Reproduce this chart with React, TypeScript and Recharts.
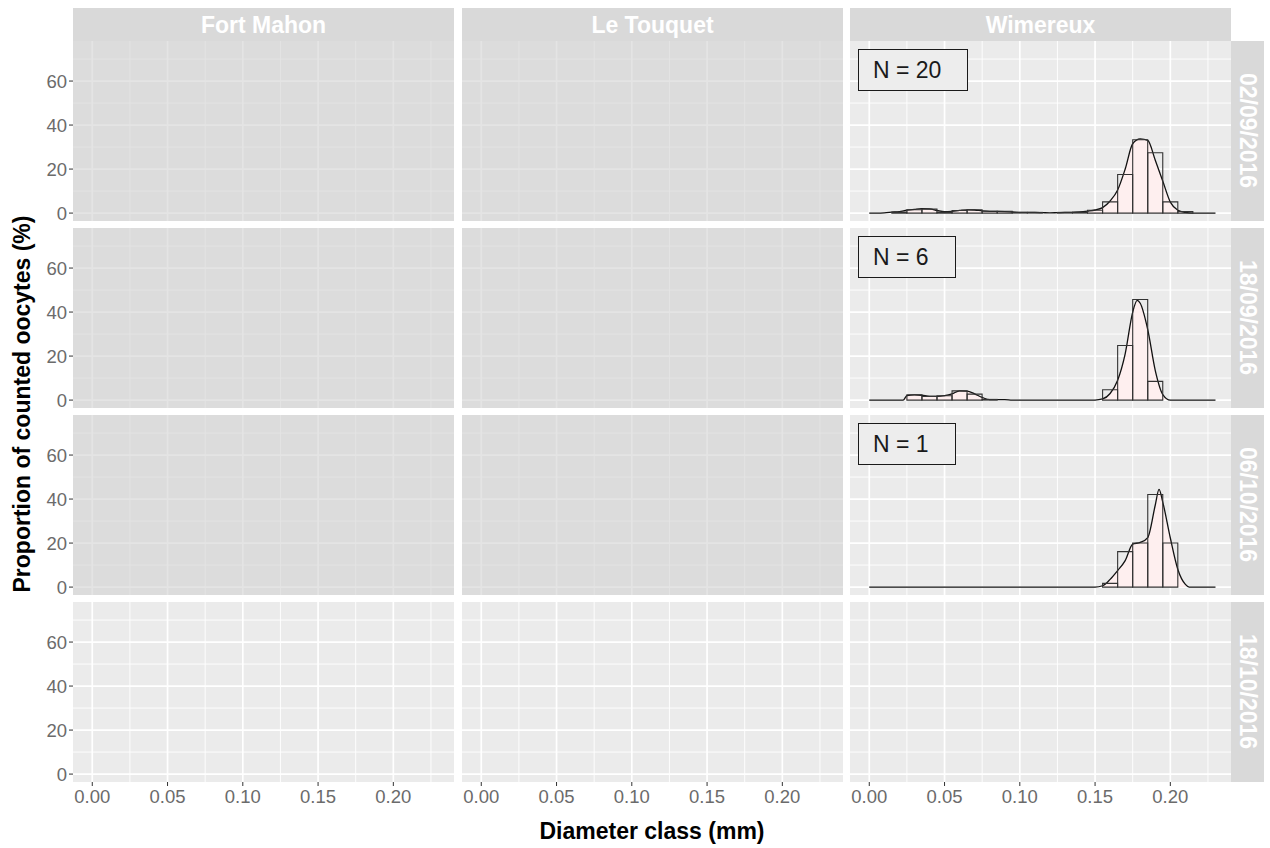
import React from 'react';
import { ComposedChart, Area, Bar, XAxis, YAxis, CartesianGrid } from 'recharts';

// facets
const sites = ['Fort Mahon', 'Le Touquet', 'Wimereux'];
const dates = ['02/09/2016', '18/09/2016', '06/10/2016', '18/10/2016'];

// axis breaks
const xTicks = [0, 0.05, 0.1, 0.15, 0.2];
const xMinor = [0.025, 0.075, 0.125, 0.175, 0.225];
const yTicks = [0, 20, 40, 60];
const yMinor = [10, 30, 50, 70];

// sites not sampled on a given date get a grey veil
const notSampled = [
  [true, true, false],
  [true, true, false],
  [true, true, false],
  [false, false, false],
];

// number of females measured at Wimereux
const sampleSizes = [20, 6, 1];

// Wimereux histograms: class centre (mm) / % of counted oocytes
const bins0209 = [
  { d: 0.02, pct: 0.5 }, { d: 0.03, pct: 1.5 }, { d: 0.04, pct: 1.8 }, { d: 0.05, pct: 0.5 },
  { d: 0.06, pct: 1.2 }, { d: 0.07, pct: 1.5 }, { d: 0.08, pct: 0.8 }, { d: 0.09, pct: 0.8 },
  { d: 0.1, pct: 0.3 }, { d: 0.11, pct: 0.3 }, { d: 0.13, pct: 0.3 }, { d: 0.14, pct: 0.4 },
  { d: 0.15, pct: 1.3 }, { d: 0.16, pct: 5.1 }, { d: 0.17, pct: 17.5 }, { d: 0.18, pct: 33.3 },
  { d: 0.19, pct: 27.4 }, { d: 0.2, pct: 5.1 }, { d: 0.21, pct: 0.7 },
];
const bins1809 = [
  { d: 0.03, pct: 2.4 }, { d: 0.04, pct: 1.7 }, { d: 0.05, pct: 2.0 }, { d: 0.06, pct: 4.2 },
  { d: 0.07, pct: 2.7 }, { d: 0.08, pct: 0.3 }, { d: 0.16, pct: 4.7 }, { d: 0.17, pct: 24.8 },
  { d: 0.18, pct: 45.7 }, { d: 0.19, pct: 8.5 },
];
const bins0610 = [
  { d: 0.16, pct: 1.7 }, { d: 0.17, pct: 16.1 }, { d: 0.18, pct: 20.0 }, { d: 0.19, pct: 42.1 },
  { d: 0.2, pct: 20.0 },
];

// smoothed size distributions
const dens0209 = [
  { d: 0, dens: 0 }, { d: 0.005, dens: 0 }, { d: 0.01, dens: 0.1 }, { d: 0.015, dens: 0.4 },
  { d: 0.02, dens: 0.7 }, { d: 0.025, dens: 1.3 }, { d: 0.03, dens: 1.7 }, { d: 0.035, dens: 2.0 },
  { d: 0.04, dens: 1.9 }, { d: 0.045, dens: 1.2 }, { d: 0.05, dens: 0.6 }, { d: 0.055, dens: 0.8 },
  { d: 0.06, dens: 1.2 }, { d: 0.065, dens: 1.5 }, { d: 0.07, dens: 1.4 }, { d: 0.075, dens: 1.0 },
  { d: 0.08, dens: 0.8 }, { d: 0.085, dens: 0.8 }, { d: 0.09, dens: 0.7 }, { d: 0.095, dens: 0.5 },
  { d: 0.1, dens: 0.3 }, { d: 0.105, dens: 0.3 }, { d: 0.11, dens: 0.3 }, { d: 0.115, dens: 0.2 },
  { d: 0.12, dens: 0.1 }, { d: 0.125, dens: 0.2 }, { d: 0.13, dens: 0.3 }, { d: 0.135, dens: 0.3 },
  { d: 0.14, dens: 0.5 }, { d: 0.145, dens: 0.9 }, { d: 0.15, dens: 1.4 }, { d: 0.155, dens: 2.5 },
  { d: 0.16, dens: 5.5 }, { d: 0.165, dens: 10.5 }, { d: 0.17, dens: 20.0 }, { d: 0.175, dens: 31.5 },
  { d: 0.18, dens: 33.7 }, { d: 0.185, dens: 33.0 }, { d: 0.19, dens: 24.0 }, { d: 0.195, dens: 14.5 },
  { d: 0.2, dens: 5.0 }, { d: 0.205, dens: 1.3 }, { d: 0.21, dens: 0.3 }, { d: 0.215, dens: 0 },
  { d: 0.23, dens: 0 },
];
const dens1809 = [
  { d: 0, dens: 0 }, { d: 0.0225, dens: 0 }, { d: 0.025, dens: 2.0 }, { d: 0.03, dens: 2.4 },
  { d: 0.035, dens: 2.2 }, { d: 0.04, dens: 1.7 }, { d: 0.045, dens: 1.7 }, { d: 0.05, dens: 2.0 },
  { d: 0.055, dens: 2.8 }, { d: 0.06, dens: 4.2 }, { d: 0.065, dens: 4.1 }, { d: 0.07, dens: 2.8 },
  { d: 0.075, dens: 1.2 }, { d: 0.08, dens: 0.2 }, { d: 0.09, dens: 0.2 }, { d: 0.095, dens: 0 },
  { d: 0.15, dens: 0 }, { d: 0.155, dens: 0.5 }, { d: 0.16, dens: 3.0 }, { d: 0.165, dens: 9.0 },
  { d: 0.17, dens: 21.0 }, { d: 0.175, dens: 40.0 }, { d: 0.178, dens: 45.3 }, { d: 0.18, dens: 44.0 },
  { d: 0.185, dens: 32.0 }, { d: 0.19, dens: 13.4 }, { d: 0.195, dens: 2.5 }, { d: 0.2, dens: 0 },
  { d: 0.23, dens: 0 },
];
const dens0610 = [
  { d: 0, dens: 0 }, { d: 0.15, dens: 0 }, { d: 0.155, dens: 0.6 }, { d: 0.16, dens: 3.5 },
  { d: 0.165, dens: 7.5 }, { d: 0.17, dens: 12.0 }, { d: 0.175, dens: 19.5 }, { d: 0.18, dens: 20.3 },
  { d: 0.185, dens: 22.5 }, { d: 0.19, dens: 37.3 }, { d: 0.1925, dens: 44.4 }, { d: 0.195, dens: 38.5 },
  { d: 0.2, dens: 22.3 }, { d: 0.205, dens: 8.0 }, { d: 0.21, dens: 1.2 }, { d: 0.2125, dens: 0 },
  { d: 0.23, dens: 0 },
];

const histograms = [bins0209, bins1809, bins0610, null];
const densities = [dens0209, dens1809, dens0610, null];

// layout
const FONT = '"Liberation Sans", Arial, Helvetica, sans-serif';
const X_DOMAIN: [number, number] = [-0.0128, 0.2403];
const Y_DOMAIN: [number, number] = [-3.6, 78.2];
const PANEL_W = 381;
const PANEL_H = 180;
const COL_X = [73, 462, 850];
const ROW_Y = [41, 228, 415, 602];
const Y_AXIS_W = 73;
const X_AXIS_H = 40;
const LABEL_PAD = 12; // room below the panel for the "0" tick label
const STRIP = 33;
const PANEL_BG = '#EBEBEB';
const STRIP_BG = '#D9D9D9';
const PINK = '#FEEFEF';
const NO_MARGIN = { top: 0, right: 0, bottom: 0, left: 0 };

const tickStyle = { fill: '#6b6b6b', fontSize: 18.5, fontFamily: FONT };

function Panel({ row, col }: { row: number; col: number }) {
  const showY = col === 0;
  const showX = row === dates.length - 1;
  const yw = showY ? Y_AXIS_W : 0;
  const xh = showX ? X_AXIS_H : 0;
  const pad = showY && !showX ? LABEL_PAD : 0;
  const isWimereux = col === sites.length - 1;
  const dens = isWimereux ? densities[row] : null;
  const bins = isWimereux ? histograms[row] : null;

  return (
    <>
      <div style={{ position: 'absolute', left: COL_X[col] - yw, top: ROW_Y[row] }}>
        <ComposedChart width={PANEL_W + yw} height={PANEL_H + xh + pad} data={dens ?? []}
          margin={{ ...NO_MARGIN, bottom: pad }}>
          <CartesianGrid fill={PANEL_BG} fillOpacity={1} stroke="#ffffff" strokeWidth={0.9}
            horizontalValues={yMinor} verticalValues={xMinor} />
          <CartesianGrid stroke="#ffffff" strokeWidth={1.7}
            horizontalValues={yTicks} verticalValues={xTicks} />
          <XAxis type="number" dataKey="d" domain={X_DOMAIN} allowDataOverflow ticks={xTicks} interval={0}
            hide={!showX} height={xh} axisLine={false} tickSize={4} tickMargin={4}
            tickLine={{ stroke: '#333333' }} tick={tickStyle}
            tickFormatter={(v: number) => v.toFixed(2)} />
          <YAxis type="number" domain={Y_DOMAIN} allowDataOverflow ticks={yTicks} interval={0}
            hide={!showY} width={yw} axisLine={false} tickSize={4} tickMargin={2}
            tickLine={{ stroke: '#333333' }} tick={tickStyle} />
          {dens && (
            <Area type="monotone" dataKey="dens" baseValue={0} stroke="#111111" strokeWidth={1.3}
              fill={PINK} fillOpacity={1} dot={false} activeDot={false} isAnimationActive={false} />
          )}
        </ComposedChart>
      </div>
      {notSampled[row][col] && (
        <div style={{
          position: 'absolute', left: COL_X[col], top: ROW_Y[row], width: PANEL_W, height: PANEL_H,
          background: 'rgba(210,210,210,0.6)',
        }} />
      )}
      {bins && (
        <div style={{ position: 'absolute', left: COL_X[col], top: ROW_Y[row] }}>
          <ComposedChart width={PANEL_W} height={PANEL_H} data={bins} margin={NO_MARGIN}
            barCategoryGap={0} barGap={0}>
            <XAxis hide type="number" dataKey="d" domain={X_DOMAIN} allowDataOverflow />
            <YAxis hide type="number" domain={Y_DOMAIN} allowDataOverflow />
            <Bar dataKey="pct" fill="none" stroke="#333333" strokeWidth={1.1} isAnimationActive={false} />
          </ComposedChart>
        </div>
      )}
      {isWimereux && row < sampleSizes.length && (
        <div style={{
          position: 'absolute', left: COL_X[col] + 8, top: ROW_Y[row] + 8, height: 40,
          padding: '0 26px 0 14px', border: '1.3px solid #1a1a1a', background: '#EDEDED',
          fontFamily: FONT, fontSize: 23, lineHeight: '40px', color: '#1a1a1a', whiteSpace: 'pre',
        }}>
          {`N = ${sampleSizes[row]}`}
        </div>
      )}
    </>
  );
}

export default function App() {
  return (
    <div style={{ position: 'absolute', left: 0, top: 0, width: 1270, height: 848, background: '#ffffff', overflow: 'hidden' }}>
      {sites.map((s, c) => (
        <div key={s} style={{
          position: 'absolute', left: COL_X[c], top: 8, width: PANEL_W, height: STRIP,
          background: STRIP_BG, color: '#ffffff', fontFamily: FONT, fontWeight: 'bold', fontSize: 23,
          lineHeight: `${STRIP}px`, textAlign: 'center', paddingTop: 1, boxSizing: 'border-box',
        }}>
          {s}
        </div>
      ))}
      {dates.map((d, r) => (
        <div key={d} style={{
          position: 'absolute', left: COL_X[2] + PANEL_W, top: ROW_Y[r], width: STRIP, height: PANEL_H,
          background: STRIP_BG, color: '#ffffff', fontFamily: FONT, fontWeight: 'bold', fontSize: 23,
          writingMode: 'vertical-rl', lineHeight: `${STRIP}px`, textAlign: 'center',
        }}>
          {d}
        </div>
      ))}
      {dates.map((d, r) => sites.map((s, c) => <Panel key={`${d}-${s}`} row={r} col={c} />))}
      <div style={{
        position: 'absolute', left: COL_X[0], width: COL_X[2] + PANEL_W - COL_X[0], top: 818,
        textAlign: 'center', fontFamily: FONT, fontWeight: 'bold', fontSize: 23, color: '#000000',
      }}>
        Diameter class (mm)
      </div>
      <div style={{
        position: 'absolute', left: 22, top: 404, transform: 'translate(-50%, -50%) rotate(-90deg)',
        whiteSpace: 'nowrap', fontFamily: FONT, fontWeight: 'bold', fontSize: 23, color: '#000000',
      }}>
        Proportion of counted oocytes (%)
      </div>
    </div>
  );
}
